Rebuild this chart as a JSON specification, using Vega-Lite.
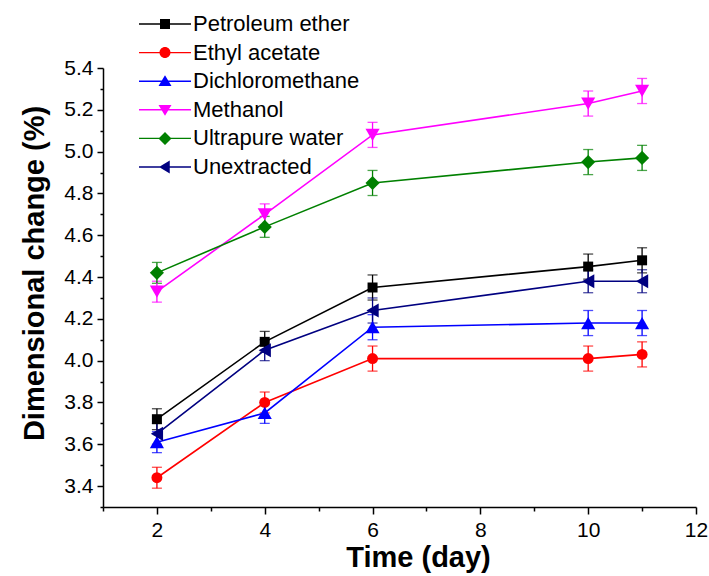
{
  "$schema": "https://vega.github.io/schema/vega-lite/v6.json",
  "width": 593,
  "height": 439,
  "autosize": {"type": "none"},
  "padding": {"left": 103, "top": 68, "right": 13, "bottom": 69},
  "background": "white",
  "config": {
    "view": {"stroke": null},
    "font": "Liberation Sans",
    "axis": {
      "grid": false,
      "domainColor": "black",
      "domainWidth": 1.5,
      "tickColor": "black",
      "tickWidth": 1.5,
      "labelColor": "black",
      "titleColor": "black",
      "labelFont": "Liberation Sans",
      "titleFont": "Liberation Sans",
      "labelFontSize": 21,
      "titleFontSize": 29,
      "titleFontWeight": "bold"
    }
  },
  "data": {
    "values": [
      {"series": "Petroleum ether", "day": 2, "value": 3.72, "err": 0.05},
      {"series": "Petroleum ether", "day": 4, "value": 4.09, "err": 0.05},
      {"series": "Petroleum ether", "day": 6, "value": 4.35, "err": 0.06},
      {"series": "Petroleum ether", "day": 10, "value": 4.45, "err": 0.06},
      {"series": "Petroleum ether", "day": 11, "value": 4.48, "err": 0.06},
      {"series": "Ethyl acetate", "day": 2, "value": 3.44, "err": 0.05},
      {"series": "Ethyl acetate", "day": 4, "value": 3.80, "err": 0.05},
      {"series": "Ethyl acetate", "day": 6, "value": 4.01, "err": 0.06},
      {"series": "Ethyl acetate", "day": 10, "value": 4.01, "err": 0.06},
      {"series": "Ethyl acetate", "day": 11, "value": 4.03, "err": 0.06},
      {"series": "Dichloromethane", "day": 2, "value": 3.61, "err": 0.05},
      {"series": "Dichloromethane", "day": 4, "value": 3.75, "err": 0.05},
      {"series": "Dichloromethane", "day": 6, "value": 4.16, "err": 0.06},
      {"series": "Dichloromethane", "day": 10, "value": 4.18, "err": 0.06},
      {"series": "Dichloromethane", "day": 11, "value": 4.18, "err": 0.06},
      {"series": "Methanol", "day": 2, "value": 4.33, "err": 0.05},
      {"series": "Methanol", "day": 4, "value": 4.70, "err": 0.05},
      {"series": "Methanol", "day": 6, "value": 5.08, "err": 0.06},
      {"series": "Methanol", "day": 10, "value": 5.23, "err": 0.06},
      {"series": "Methanol", "day": 11, "value": 5.29, "err": 0.06},
      {"series": "Ultrapure water", "day": 2, "value": 4.42, "err": 0.05},
      {"series": "Ultrapure water", "day": 4, "value": 4.64, "err": 0.05},
      {"series": "Ultrapure water", "day": 6, "value": 4.85, "err": 0.06},
      {"series": "Ultrapure water", "day": 10, "value": 4.95, "err": 0.06},
      {"series": "Ultrapure water", "day": 11, "value": 4.97, "err": 0.06},
      {"series": "Unextracted", "day": 2, "value": 3.65, "err": 0.05},
      {"series": "Unextracted", "day": 4, "value": 4.05, "err": 0.05},
      {"series": "Unextracted", "day": 6, "value": 4.24, "err": 0.06},
      {"series": "Unextracted", "day": 10, "value": 4.38, "err": 0.055},
      {"series": "Unextracted", "day": 11, "value": 4.38, "err": 0.055}
    ]
  },
  "encoding": {
    "x": {
      "field": "day",
      "type": "quantitative",
      "scale": {"domain": [1, 12], "nice": false, "zero": false},
      "axis": {
        "title": "Time (day)",
        "values": [1, 2, 3, 4, 5, 6, 7, 8, 9, 10, 11, 12],
        "labelExpr": "datum.value % 2 === 0 ? datum.label : ''",
        "tickSize": {"condition": {"test": "datum.value % 2 === 0", "value": 7}, "value": 4},
        "labelPadding": 5,
        "labelOverlap": false,
        "labelFlush": false,
        "titlePadding": 3,
        "titleX": 315
      }
    },
    "y": {
      "field": "value",
      "type": "quantitative",
      "scale": {"domain": [3.3, 5.4], "nice": false, "zero": false},
      "axis": {
        "title": "Dimensional change (%)",
        "values": [3.3, 3.4, 3.5, 3.6, 3.7, 3.8, 3.9, 4.0, 4.1, 4.2, 4.3, 4.4, 4.5, 4.6, 4.7, 4.8, 4.9, 5.0, 5.1, 5.2, 5.3, 5.4],
        "labelExpr": "round(datum.value * 10) % 2 === 0 ? format(datum.value, '.1f') : ''",
        "tickSize": {"condition": {"test": "round(datum.value * 10) % 2 === 0", "value": 6}, "value": 3},
        "labelPadding": 4,
        "labelOverlap": false,
        "labelFlush": false,
        "titlePadding": 14,
        "titleY": 205
      }
    },
    "color": {
      "field": "series",
      "type": "nominal",
      "scale": {
        "domain": ["Petroleum ether", "Ethyl acetate", "Dichloromethane", "Methanol", "Ultrapure water", "Unextracted"],
        "range": ["#000000", "#ff0000", "#0000ff", "#ff00ff", "#008000", "#000080"]
      },
      "legend": {
        "title": null,
        "orient": "none",
        "legendX": 51,
        "legendY": -55,
        "padding": 0,
        "symbolSize": 100,
        "symbolStrokeWidth": 0,
        "symbolOpacity": 1,
        "symbolType": {"expr": "datum.value === 'Petroleum ether' ? 'M-5.2,-0.14H5.2V0.14H-5.2ZM-1,-1H1V1H-1Z' : datum.value === 'Ethyl acetate' ? 'M-5.2,-0.14H5.2V0.14H-5.2ZM-1.1,0A1.1,1.1 0 1,1 1.1,0A1.1,1.1 0 1,1 -1.1,0Z' : datum.value === 'Dichloromethane' ? 'M-5.2,-0.14H5.2V0.14H-5.2ZM0,-1.2L1.3,0.95H-1.3Z' : datum.value === 'Methanol' ? 'M-5.2,-0.14H5.2V0.14H-5.2ZM0,1.2L-1.3,-0.95H1.3Z' : datum.value === 'Ultrapure water' ? 'M-5.2,-0.14H5.2V0.14H-5.2ZM0,-1.3L1.3,0L0,1.3L-1.3,0Z' : 'M-5.2,-0.14H5.2V0.14H-5.2ZM-1.2,0L0.95,-1.3V1.3Z'"},
        "labelFont": "Liberation Sans",
        "labelFontSize": 22,
        "labelColor": "black",
        "labelLimit": 0,
        "labelOffset": 17,
        "rowPadding": 6.6
      }
    }
  },
  "layer": [
    {
      "mark": {"type": "errorbar", "ticks": {"size": 10}, "thickness": 1.3},
      "encoding": {
        "y": {"field": "value", "type": "quantitative"},
        "yError": {"field": "err"}
      }
    },
    {
      "mark": {"type": "line", "strokeWidth": 1.6},
      "encoding": {"detail": {"field": "series"}}
    },
    {
      "mark": {"type": "point", "filled": true, "opacity": 1},
      "encoding": {
        "shape": {
          "condition": [
            {"test": "datum.series === 'Petroleum ether'", "value": "square"},
            {"test": "datum.series === 'Ethyl acetate'", "value": "circle"},
            {"test": "datum.series === 'Dichloromethane'", "value": "triangle-up"},
            {"test": "datum.series === 'Methanol'", "value": "triangle-down"},
            {"test": "datum.series === 'Ultrapure water'", "value": "diamond"}
          ],
          "value": "triangle-left"
        },
        "size": {
          "condition": [
            {"test": "datum.series === 'Petroleum ether'", "value": 100},
            {"test": "datum.series === 'Ethyl acetate'", "value": 120}
          ],
          "value": 200
        }
      }
    }
  ]
}
